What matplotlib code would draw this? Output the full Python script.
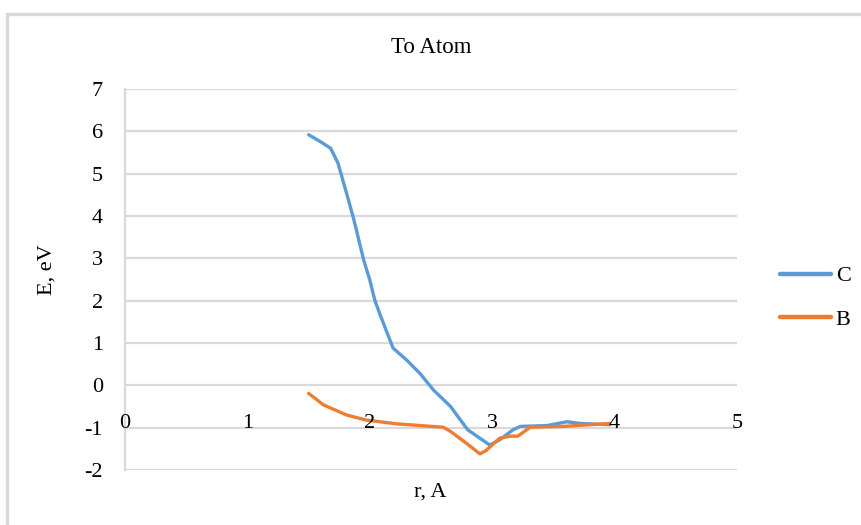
import matplotlib
matplotlib.use("Agg")
import matplotlib.pyplot as plt
from matplotlib.patches import Rectangle
from matplotlib.transforms import offset_copy

# ---- data ----
r_C = [1.50, 1.60, 1.68, 1.74, 1.81, 1.87, 1.95, 2.00, 2.04, 2.08, 2.19, 2.30, 2.41,
       2.52, 2.66, 2.72, 2.80, 2.90, 2.98, 3.06, 3.17, 3.23, 3.45, 3.61, 3.72, 3.96]
E_C = [5.92, 5.75, 5.60, 5.25, 4.54, 3.91, 2.96, 2.49, 2.02, 1.70, 0.88, 0.60, 0.28,
       -0.11, -0.50, -0.74, -1.05, -1.25, -1.41, -1.29, -1.05, -0.97, -0.95, -0.86, -0.90, -0.93]

r_B = [1.50, 1.55, 1.62, 1.81, 1.97, 2.22, 2.41, 2.60, 2.66, 2.79, 2.90, 2.95, 3.06,
       3.15, 3.21, 3.31, 3.58, 3.96]
E_B = [-0.19, -0.30, -0.46, -0.70, -0.82, -0.91, -0.95, -0.99, -1.09, -1.37, -1.62,
       -1.54, -1.25, -1.20, -1.20, -0.99, -0.97, -0.90]

x_ticks = [0, 1, 2, 3, 4, 5]
y_ticks = [-2, -1, 0, 1, 2, 3, 4, 5, 6, 7]
title = "To Atom"
xlabel = "r, A"
ylabel = "E, eV"
series_names = ["C", "B"]
colors = ["#5B9BD5", "#ED7D31"]

plt.rcParams['font.family'] = ['Liberation Serif', 'DejaVu Serif']

W, H = 861, 525
fig = plt.figure(figsize=(W / 100, H / 100), dpi=100)

# chart border
fig.patches.append(Rectangle((7 / W, -0.1), 1.2, 1 - 14 / H + 0.1, transform=fig.transFigure,
                             fill=False, edgecolor="#d9d9d9", linewidth=2.4))

ax = fig.add_axes([125 / W, 1 - 470 / H, (737 - 125) / W, (470 - 89) / H])
ax.set_xlim(x_ticks[0], x_ticks[-1])
ax.set_ylim(y_ticks[0], y_ticks[-1])

for y in y_ticks:
    ax.axhline(y, color="#d9d9d9", linewidth=1.6, zorder=0)

ax.plot(r_C, E_C, color=colors[0], linewidth=2.4, label=series_names[0], zorder=3,
        solid_joinstyle="round", solid_capstyle="round")
ax.plot(r_B, E_B, color=colors[1], linewidth=2.4, label=series_names[1], zorder=4,
        solid_joinstyle="round", solid_capstyle="round")

for s in ["top", "right", "bottom"]:
    ax.spines[s].set_visible(False)
ax.spines["left"].set_color("#d9d9d9")
ax.spines["left"].set_linewidth(1.6)

ax.set_yticks(y_ticks)
ax.set_yticklabels([str(v) for v in y_ticks], fontsize=16)
ax.tick_params(axis="y", length=0, pad=16)
ax.set_xticks([])

# x tick labels placed on the horizontal axis (crossing at y=-1)
lab_tr = offset_copy(ax.transData, fig=fig, x=0, y=4, units="dots")
for xv in x_ticks:
    ax.text(xv, -1, str(xv), fontsize=16, ha="center", va="center",
            transform=lab_tr, zorder=5)

ax.set_title(title, fontsize=16.5, pad=26)
fig.text(430 / W, 1 - 492 / H, xlabel, fontsize=16, ha="center", va="center")
fig.text(47 / W, 1 - 270 / H, ylabel, fontsize=16, ha="center", va="center", rotation=90)

leg = ax.legend(loc="center left", bbox_to_anchor=(769 / W, 1 - 298 / H),
                bbox_transform=fig.transFigure, frameon=False, fontsize=16,
                handlelength=2.3, handletextpad=0.2, labelspacing=1.05, borderpad=0)
for line in leg.get_lines():
    line.set_linewidth(3.2)

fig.savefig("out.png", dpi=100)
